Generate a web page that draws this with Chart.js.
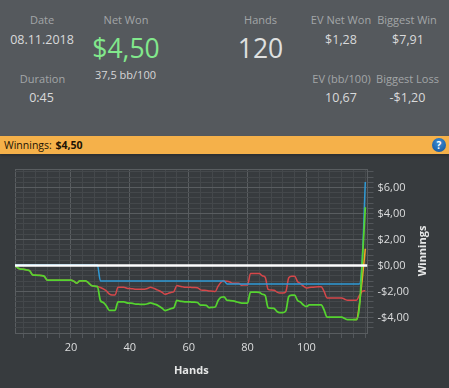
<!DOCTYPE html>
<html>
<head>
<meta charset="utf-8">
<script src="https://cdn.jsdelivr.net/npm/chart.js@4/dist/chart.umd.min.js"></script>
<style>
html,body{margin:0;padding:0;background:#373b3e;}
#page{position:relative;width:449px;height:388px;overflow:hidden;background:#373b3e;font-family:"Open Sans",sans-serif;}
#head{position:absolute;left:0;top:0;width:449px;height:136px;background:#55595d;}
#band{position:absolute;left:0;top:136px;width:449px;height:18px;background:#f5b14a;box-shadow:0 2px 2px #2d3033;}
.t{position:absolute;transform:translate(-50%,-50%);white-space:nowrap;line-height:1;}
.lab{font-size:11px;color:#a3a6a8;}
.val{font-size:12.5px;color:#d9dadb;}
.big{font-size:26.5px;color:#dfe0e0;}
#win{position:absolute;left:4px;top:144.5px;transform:translateY(-50%);font-size:10.5px;color:#1c1405;white-space:nowrap;line-height:1;}
#win b{margin-left:1px;}
#help{position:absolute;left:432px;top:138px;width:14px;height:14px;border-radius:50%;background:radial-gradient(circle at 50% 35%,#3f8fd6,#0f4f96);color:#fff;font:bold 10px/14px "Open Sans",sans-serif;text-align:center;}
canvas{position:absolute;left:0;top:0;}
</style>
</head>
<body>
<div id="page">
<div id="head"></div>
<div class="t lab" style="left:42px;top:19px">Date</div>
<div class="t val" style="left:42px;top:39.5px">08.11.2018</div>
<div class="t lab" style="left:42.5px;top:78px">Duration</div>
<div class="t val" style="left:41.5px;top:98px">0:45</div>
<div class="t lab" style="left:126px;top:19px">Net Won</div>
<div class="t big" style="left:126px;top:48px;color:#82e88c">$4,50</div>
<div class="t" style="left:125.5px;top:74px;font-size:11px;color:#d5d6d7">37,5 bb/100</div>
<div class="t lab" style="left:260.5px;top:19px">Hands</div>
<div class="t big" style="left:260.5px;top:48px">120</div>
<div class="t lab" style="left:341px;top:19px">EV Net Won</div>
<div class="t val" style="left:341px;top:39.5px">$1,28</div>
<div class="t lab" style="left:341.5px;top:78px">EV (bb/100)</div>
<div class="t val" style="left:341px;top:98px">10,67</div>
<div class="t lab" style="left:407px;top:19px">Biggest Win</div>
<div class="t val" style="left:408px;top:39.5px">$7,91</div>
<div class="t lab" style="left:407.5px;top:78px">Biggest Loss</div>
<div class="t val" style="left:407.5px;top:98px">-$1,20</div>
<div id="band"></div>
<div id="win">Winnings: <b>$4,50</b></div>
<div id="help">?</div>
<canvas id="c" width="449" height="388"></canvas>
</div>
<script>
const netWon = [0,-0.2,-0.28,-0.3,-0.35,-0.42,-0.73,-0.75,-0.76,-0.78,
-0.85,-1.14,-1.14,-1.14,-1.14,-1.14,-1.14,-1.14,-1.14,-1.14,
-1.22,-1.37,-1.19,-1.19,-1.19,-1.35,-1.55,-1.6,-1.63,-2.7,
-2.86,-3.1,-3.45,-3.45,-3.45,-2.8,-2.8,-2.8,-2.88,-2.9,
-2.92,-2.98,-2.98,-3.0,-3.0,-2.95,-2.88,-2.95,-3.02,-3.15,
-3.3,-3.47,-3.4,-3.32,-3.25,-2.68,-2.75,-2.78,-2.8,-2.8,
-2.82,-2.82,-2.85,-3.06,-3.06,-3.08,-3.25,-3.22,-3.2,-2.7,
-2.45,-2.42,-2.68,-2.7,-2.73,-2.78,-2.85,-2.9,-2.9,-2.9,
-2.06,-2.06,-2.06,-2.08,-2.22,-2.32,-3.27,-3.28,-3.3,-3.55,
-3.63,-3.63,-3.5,-2.4,-2.29,-2.29,-2.7,-2.82,-3.05,-3.17,
-3.04,-3.04,-3.04,-3.04,-3.04,-3.42,-3.98,-3.98,-3.98,-3.98,
-3.98,-3.98,-4.08,-4.17,-4.17,-4.17,-4.17,-3.2,0.4,4.48];
const showdownWon = [0,-0.2,-0.28,-0.3,-0.35,-0.42,-0.73,-0.75,-0.76,-0.78,
-0.85,-1.14,-1.14,-1.14,-1.14,-1.14,-1.14,-1.14,-1.14,-1.14,
-1.22,-1.37,-1.19,-1.19,-1.19,-1.35,-1.55,-1.6,-1.63,-1.7,
-1.8,-1.95,-2.19,-2.27,-2.27,-1.68,-1.68,-1.68,-1.75,-1.78,
-1.8,-1.83,-1.83,-1.83,-1.83,-1.78,-1.68,-1.75,-1.85,-1.95,
-2.08,-2.22,-2.15,-2.08,-2.01,-1.55,-1.6,-1.65,-1.68,-1.68,
-1.69,-1.7,-1.71,-1.88,-1.91,-1.92,-1.96,-1.98,-2.01,-1.6,
-1.29,-1.19,-1.22,-1.28,-1.37,-1.37,-1.37,-1.52,-1.5,-1.5,
-0.63,-0.63,-0.63,-0.63,-0.8,-0.91,-1.85,-1.9,-1.91,-2.05,
-2.12,-2.12,-2.02,-0.95,-0.83,-0.83,-1.25,-1.4,-1.6,-1.73,
-1.7,-1.68,-1.66,-1.65,-1.65,-2.0,-2.5,-2.5,-2.5,-2.5,
-2.5,-2.5,-2.6,-2.68,-2.68,-2.68,-2.68,-2.3,-2.0,-1.95];
const nonShowdownWon = [0.04,0.04,0.04,0.04,0.04,0.04,0.04,0.04,0.04,0.04,
0.04,0.04,0.04,0.04,0.04,0.04,0.04,0.04,0.04,0.04,
0.04,0.04,0.04,0.04,0.04,0.04,0.04,0.04,0.04,-1.19,
-1.19,-1.19,-1.19,-1.19,-1.19,-1.19,-1.19,-1.19,-1.19,-1.19,
-1.19,-1.19,-1.19,-1.19,-1.19,-1.19,-1.19,-1.19,-1.19,-1.19,
-1.19,-1.19,-1.19,-1.19,-1.19,-1.19,-1.19,-1.19,-1.19,-1.19,
-1.19,-1.19,-1.19,-1.19,-1.19,-1.19,-1.19,-1.19,-1.19,-1.19,
-1.19,-1.19,-1.42,-1.42,-1.42,-1.42,-1.42,-1.42,-1.42,-1.42,
-1.42,-1.42,-1.42,-1.42,-1.42,-1.42,-1.42,-1.42,-1.42,-1.42,
-1.42,-1.42,-1.42,-1.42,-1.42,-1.42,-1.42,-1.42,-1.42,-1.42,
-1.42,-1.42,-1.42,-1.42,-1.42,-1.42,-1.42,-1.42,-1.42,-1.42,
-1.42,-1.42,-1.42,-1.42,-1.42,-1.42,-1.42,-1.42,0.6,6.42];
const evHands = [116,117,118,119,120];
const evWon = [-4.17,-4.17,-3.0,-1.0,1.28];
const zeroLineHands = [1,120.75];
const zeroLine = [0,0];
const hands = [1,2,3,4,5,6,7,8,9,10,11,12,13,14,15,16,17,18,19,20,21,22,23,24,25,26,27,28,29,30,31,32,33,34,35,36,37,38,39,40,41,42,43,44,45,46,47,48,49,50,51,52,53,54,55,56,57,58,59,60,61,62,63,64,65,66,67,68,69,70,71,72,73,74,75,76,77,78,79,80,81,82,83,84,85,86,87,88,89,90,91,92,93,94,95,96,97,98,99,100,101,102,103,104,105,106,107,108,109,110,111,112,113,114,115,116,117,118,119,120];
const xGridValues = [1,4,8,12,16,20,24,28,32,36,40,44,48,52,56,60,64,68,72,76,80,84,88,92,96,100,104,108,112,116,120];
const xLabelValues = [20,40,60,80,100];
const yGridValues = [-4.8,-4.4,-4,-3.6,-3.2,-2.8,-2.4,-2,-1.6,-1.2,-0.8,-0.4,0,0.4,0.8,1.2,1.6,2,2.4,2.8,3.2,3.6,4,4.4,4.8,5.2,5.6,6,6.4,6.8,7.2,7.42];
const yLabelValues = [-4,-2,0,2,4,6];
const yLabels = ["-$4,00","-$2,00","$0,00","$2,00","$4,00","$6,00"];

const pts = (xs, ys) => ys.map((y, i) => ({x: xs[i], y}));
const lineStyle = {pointRadius: 0, fill: false, cubicInterpolationMode: 'monotone'};
const MAJOR = '#595d60', MINOR = '#44484b', TICK = '#52565a', TXT = '#dcddde';
const FONT = '"Open Sans",sans-serif';

const rotatedTitle = {
  id: 'rotatedTitle',
  afterDraw(chart) {
    const a = chart.chartArea, ctx = chart.ctx;
    ctx.save();
    ctx.translate(423, (a.top + a.bottom) / 2);
    ctx.rotate(-Math.PI / 2);
    ctx.font = 'bold 11px ' + FONT;
    ctx.fillStyle = '#e6e7e7';
    ctx.textAlign = 'center';
    ctx.textBaseline = 'middle';
    ctx.fillText('Winnings', 0, 0);
    ctx.restore();
  }
};

new Chart(document.getElementById('c'), {
  type: 'line',
  plugins: [rotatedTitle],
  data: {
    datasets: [
      {label: 'Zero', data: pts(zeroLineHands, zeroLine), borderColor: '#ffffff', borderWidth: 2.5, order: 0, pointRadius: 0},
      {label: 'Net won', data: pts(hands, netWon), borderColor: '#55d42f', borderWidth: 1.75, order: 1, ...lineStyle},
      {label: 'Without showdown', data: pts(hands, nonShowdownWon), borderColor: '#2f9ad6', borderWidth: 1.5, order: 2, ...lineStyle},
      {label: 'EV', data: pts(evHands, evWon), borderColor: '#f5a623', borderWidth: 1.5, order: 3, ...lineStyle},
      {label: 'Showdown', data: pts(hands, showdownWon), borderColor: '#d5474a', borderWidth: 1.5, order: 4, ...lineStyle}
    ]
  },
  options: {
    responsive: false,
    animation: false,
    layout: {padding: {left: 15, top: 169, right: 0, bottom: 0}},
    plugins: {legend: {display: false}, tooltip: {enabled: false}},
    scales: {
      x: {
        type: 'linear', min: 1, max: 120.75,
        afterBuildTicks: s => { s.ticks = xGridValues.map(value => ({value})); },
        afterFit: s => { s.height = 55; },
        grid: {
          color: c => (c.tick && (xLabelValues.includes(c.tick.value) || c.tick.value === 1)) ? MAJOR : MINOR,
          tickColor: c => (c.tick && c.tick.value === 1) ? 'rgba(0,0,0,0)' : TICK,
          tickLength: 5
        },
        border: {color: MAJOR, width: 1},
        ticks: {
          autoSkip: false, maxRotation: 0, color: TXT, padding: 3,
          font: {family: FONT, size: 11},
          callback: v => xLabelValues.includes(v) ? String(v) : ''
        },
        title: {display: true, text: 'Hands', color: '#e6e7e7', font: {family: FONT, size: 11, weight: 'bold'}, padding: {top: 0, bottom: 11}}
      },
      y: {
        type: 'linear', position: 'right', min: -5.2, max: 7.42,
        afterBuildTicks: s => { s.ticks = yGridValues.map(value => ({value})); },
        afterFit: s => { s.width = 81.5; },
        grid: {
          color: c => (c.tick && (yLabelValues.includes(c.tick.value) || c.tick.value === 7.42)) ? MAJOR : MINOR,
          tickColor: c => (c.tick && c.tick.value === 7.42) ? 'rgba(0,0,0,0)' : TICK,
          tickLength: 6
        },
        border: {color: MAJOR, width: 1},
        ticks: {
          autoSkip: false, color: TXT, padding: 4,
          font: {family: FONT, size: 11},
          callback: v => { const i = yLabelValues.indexOf(v); return i < 0 ? '' : yLabels[i]; }
        }
      }
    }
  }
});
</script>
</body>
</html>
